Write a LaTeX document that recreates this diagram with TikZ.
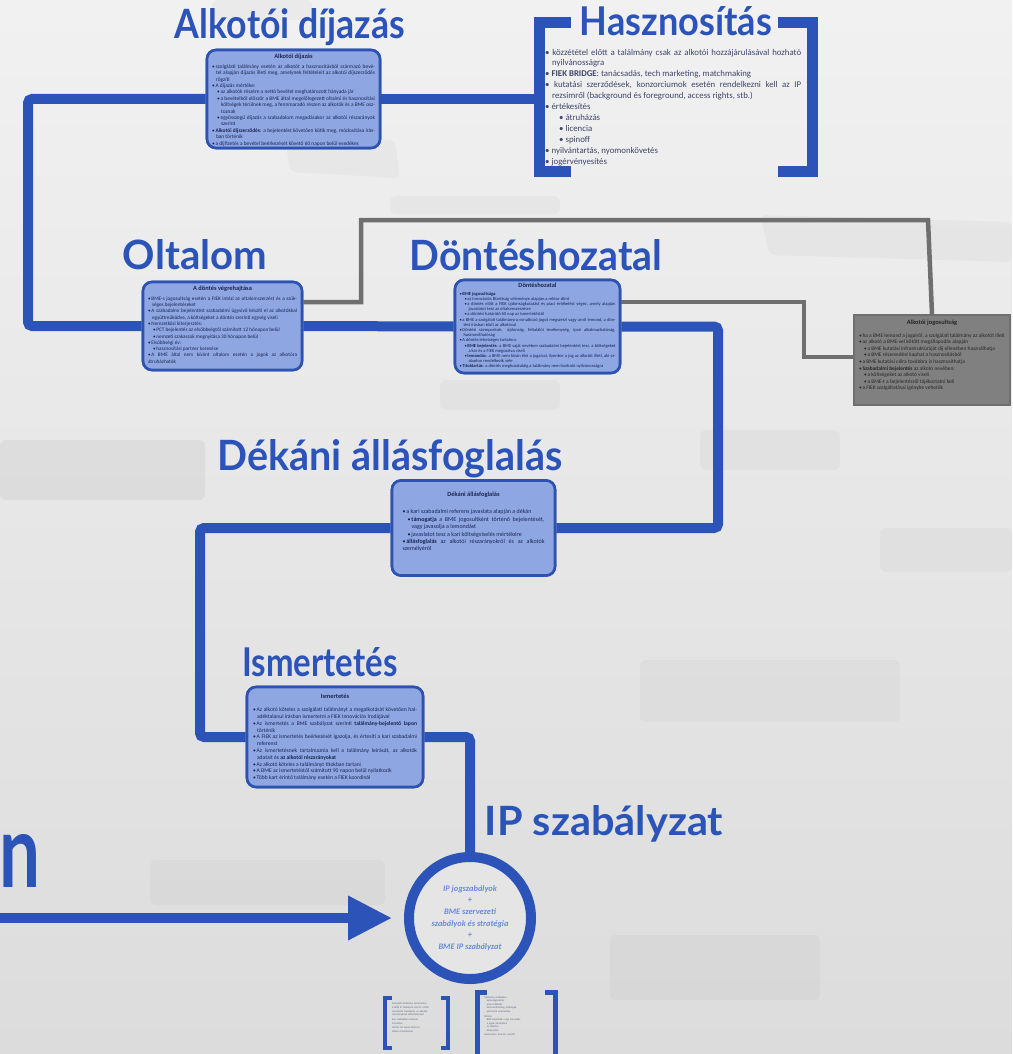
\documentclass[tikz,border=0pt]{standalone}
\usepackage{fontspec}
\setmainfont{Carlito}
\newfontfamily\ttlfont{Lato}
\usetikzlibrary{arrows.meta}
\definecolor{ipblue}{HTML}{2C54B8}
\definecolor{boxfill}{HTML}{8EA7E3}
\definecolor{boxline}{HTML}{2E52B0}
\definecolor{grayline}{HTML}{6F6F6F}
\definecolor{grayfill}{HTML}{808080}
\definecolor{txtdark}{HTML}{1B2450}
\definecolor{bgtop}{HTML}{F1F1F1}
\definecolor{bgbot}{HTML}{DCDCDC}
\definecolor{circtxt}{HTML}{6A8ADA}
\newcommand\mytitle[3]{\resizebox{#1pt}{#2pt}{\ttlfont\bfseries #3}}
\newcommand\bi[1]{\par\leftskip=0pt\hangindent=4pt\hangafter=1\noindent\textbullet\,#1}
\newcommand\si[1]{\par\leftskip=5pt\hangindent=4pt\hangafter=1\noindent\textbullet\,#1}
\newcommand\bx[1]{\par\leftskip=0pt\hangindent=7pt\hangafter=1\noindent\textbullet\ #1}
\newcommand\sx[1]{\par\leftskip=14pt\hangindent=7pt\hangafter=1\noindent\textbullet\ #1}
\begin{document}
\begin{tikzpicture}[x=1pt,y=-1pt,
  blueline/.style={draw=ipblue, line width=10pt, rounded corners=4pt},
  grayln/.style={draw=grayline, line width=4.5pt},
  infobox/.style={draw=boxline, fill=boxfill, line width=2.6pt, rounded corners=9pt, inner sep=0pt},
  graybox/.style={draw=grayline, fill=grayfill, line width=1.5pt, inner sep=0pt},
  boxtext/.style={inner sep=0pt, align=justify, text=txtdark, font=\fontsize{5.4}{6.4}\selectfont},
  boxhead/.style={inner sep=0pt, text=txtdark, font=\fontsize{6.4}{7}\selectfont\bfseries},
  ttl/.style={inner sep=0pt, text=ipblue, anchor=base},
  bracket/.style={draw=ipblue, line width=11pt},
  smallbr/.style={draw=ipblue, line width=4pt},
  bgshape/.style={fill=gray, opacity=0.06, rounded corners=6pt},
  tinytext/.style={inner sep=0pt, align=left, text=txtdark!70, font=\fontsize{2.6}{3.6}\selectfont}
]
\useasboundingbox (0,0) rectangle (1012,1054);
\clip (0,0) rectangle (1012,1054);
% background
\shade[top color=bgtop, bottom color=bgbot] (0,0) rectangle (1012,1054);
\fill[bgshape] (212,0) rectangle (312,20);
\fill[bgshape] (285,135) -- (395,140) -- (400,178) -- (290,172) -- cycle;
\fill[bgshape, opacity=0.1] (0,440) rectangle (205,500);
\fill[bgshape] (760,215) -- (1012,222) -- (1012,262) -- (770,255) -- cycle;
\fill[bgshape] (390,196) rectangle (560,214);
\fill[bgshape] (640,660) rectangle (900,722);
\fill[bgshape] (880,528) rectangle (1012,572);
\fill[bgshape] (150,860) rectangle (385,905);
\fill[bgshape] (610,935) rectangle (820,1000);
\fill[bgshape] (440,380) rectangle (560,410);
\fill[bgshape] (700,430) rectangle (840,470);

% boxes
\node[infobox, minimum width=173pt, minimum height=98pt] (n1) at (293.5,99) {};
\node[infobox, minimum width=159pt, minimum height=88pt] (olt) at (222.5,326) {};
\node[infobox, minimum width=165pt, minimum height=93pt] (dont) at (537.5,326.5) {};
\node[graybox, minimum width=156pt, minimum height=90pt] (jog) at (932,360) {};
\node[infobox, minimum width=163pt, minimum height=95pt] (dek) at (473.5,528) {};
\node[infobox, minimum width=176pt, minimum height=100pt] (ism) at (335,737) {};
\node[draw=ipblue, line width=10pt, circle, minimum size=122pt, fill=white!80!gray, inner sep=0pt] (ip) at (470,918) {};

% titles
\node[ttl] (t1) at (290,39) {\mytitle{230}{30}{Alkotói díjazás}};
\node[ttl] (t2) at (676,36) {\mytitle{192}{29}{Hasznosítás}};
\node[ttl] (t3) at (195,269) {\mytitle{144}{30}{Oltalom}};
\node[ttl] (t4) at (536,270) {\mytitle{253}{31}{Döntéshozatal}};
\node[ttl] (t5) at (390,470) {\mytitle{345}{31}{Dékáni állásfoglalás}};
\node[ttl] (t6) at (320,676) {\mytitle{155}{29}{Ismertetés}};
\node[ttl] (t7) at (604,835) {\mytitle{238}{30}{IP szabályzat}};
\node[inner sep=0pt, text=ipblue, anchor=south west] (nn) at (-1,888) {\resizebox{41pt}{53pt}{\ttlfont\bfseries n}};

% Hasznositas brackets
\coordinate (hl) at (539,99);
\draw[bracket] (571,23) -- (539,23) -- (539,171) -- (571,171);
\draw[bracket] (778,23) -- (812,23) -- (812,171) -- (778,171);
\node[inner sep=0pt, anchor=north west, text width=256pt, align=justify, text=txtdark!85, font=\fontsize{8.8}{10.9}\selectfont] (hlist) at (545,44) {%
\hyphenpenalty=10000\exhyphenpenalty=10000
\bx{közzététel előtt a találmány csak az alkotói hozzájárulásával hozható nyilvánosságra}
\bx{\textbf{FIEK BRIDGE}: tanácsadás, tech marketing, matchmaking}
\bx{kutatási szerződések, konzorciumok esetén rendelkezni kell az IP rezsimről (background és foreground, access rights, stb.)}
\bx{értékesítés}
\sx{átruházás}
\sx{licencia}
\sx{spinoff}
\bx{nyilvántartás, nyomonkövetés}
\bx{jogérvényesítés}};

% connectors
\draw[blueline] (n1.west) -- (28,99) -- (28,326) -- (olt.west);
\draw[blueline] (n1.east) -- (hl);
\draw[blueline] (olt.east) -- (dont.west);
\draw[blueline] (dont.east) -- (718,326.5) -- (718,528) -- (dek.east);
\draw[blueline] (dek.west) -- (200,528) -- (200,737) -- (ism.west);
\draw[blueline] (ism.east) -| (ip.north);
\coordinate (astart) at (-10,918);
\draw[ipblue, line width=10pt, shorten >=12pt, -{Triangle[length=44pt,width=42pt]}] (astart) -- (ip.west);
\draw[grayln] (olt.east |- 0,302) -- (361,302) -- (361,220) -- (928,220) -- (jog.north);
\draw[grayln] (dont.east |- 0,302) -- (804,302) -- (804,357) -- (jog.west |- 0,357);

% redraw boxes over lines
\node[infobox, minimum width=173pt, minimum height=98pt] at (n1) {};
\node[infobox, minimum width=159pt, minimum height=88pt] at (olt) {};
\node[infobox, minimum width=165pt, minimum height=93pt] at (dont) {};
\node[graybox, minimum width=156pt, minimum height=90pt] at (jog) {};
\node[infobox, minimum width=163pt, minimum height=95pt] at (dek) {};
\node[infobox, minimum width=176pt, minimum height=100pt] at (ism) {};

% box contents
\node[boxhead, anchor=north] (h1) at ([yshift=-5pt]n1.north) {Alkotói díjazás};
\node[boxtext, text width=163pt, anchor=north] (c1) at ([yshift=-13pt]n1.north) {%
\bi{szolgálati találmány esetén az alkotót a hasznosításból származó bevétel alapján díjazás illeti meg, amelynek feltételeit az alkotói díjszerződés rögzíti}
\bi{A díjazás mértéke:}
\si{az alkotók részére a nettó bevétel meghatározott hányada jár}
\si{a bevételből először a BME által megelőlegezett oltalmi és hasznosítási költségek térülnek meg, a fennmaradó részen az alkotók és a BME osztoznak}
\si{egyösszegű díjazás a szabadalom megadásakor az alkotói részarányok szerint}
\bi{\textbf{Alkotói díjszerződés}: a bejelentést követően kötik meg, módosítása írásban történik}
\bi{a díjfizetés a bevétel beérkezését követő 60 napon belül esedékes}};

\node[boxhead, anchor=north] (h2) at ([yshift=-5pt]olt.north) {A döntés végrehajtása};
\node[boxtext, text width=149pt, anchor=north, font=\fontsize{5.2}{6.3}\selectfont] (c2) at ([yshift=-13pt]olt.north) {%
\bi{BME-s jogosultság esetén a FIEK intézi az oltalomszerzést és a szükséges bejelentéseket}
\bi{A szabadalmi bejelentést szabadalmi ügyvivő készíti el az alkotókkal együttműködve, a költségeket a döntés szerinti egység viseli}
\bi{Nemzetközi kiterjesztés:}
\si{PCT bejelentés az elsőbbségtől számított 12 hónapon belül}
\si{nemzeti szakaszok megnyitása 30 hónapon belül}
\bi{Elsőbbségi év:}
\si{hasznosítási partner keresése}
\bi{A BME által nem kívánt oltalom esetén a jogok az alkotóra átruházhatók}};

\node[boxhead, anchor=north] (h3) at ([yshift=-4pt]dont.north) {Döntéshozatal};
\node[boxtext, text width=156pt, anchor=north, font=\fontsize{4.5}{5.2}\selectfont] (c3) at ([yshift=-11pt]dont.north) {%
\bi{\textbf{BME jogosultsága}:}
\si{az Innovációs Bizottság véleménye alapján a rektor dönt}
\si{a döntés előtt a FIEK újdonságkutatást és piaci értékelést végez, amely alapján javaslatot tesz az oltalomszerzésre}
\si{a döntési határidő 60 nap az ismertetéstől}
\bi{a BME a szolgálati találmányra vonatkozó jogot megszerzi vagy arról lemond, a döntést írásban közli az alkotóval}
\bi{Döntési szempontok: újdonság, feltalálói tevékenység, ipari alkalmazhatóság, hasznosíthatóság}
\bi{A döntés lehetséges tartalma:}
\si{\textbf{BME bejelentés}: a BME saját nevében szabadalmi bejelentést tesz, a költségeket a kar és a FIEK megosztva viseli}
\si{\textbf{lemondás}: a BME nem kíván élni a jogaival, ilyenkor a jog az alkotót illeti, aki szabadon rendelkezik vele}
\bi{\textbf{Titoktartás}: a döntés meghozataláig a találmány nem hozható nyilvánosságra}};

\node[boxhead, anchor=north, text=black!85] (h4) at ([yshift=-6pt]jog.north) {Alkotói jogosultság};
\node[boxtext, text width=146pt, anchor=north, text=black!85, font=\fontsize{5.4}{6.6}\selectfont] (c4) at ([yshift=-16pt]jog.north) {%
\bi{ha a BME lemond a jogairól, a szolgálati találmány az alkotót illeti}
\bi{az alkotó a BME-vel kötött megállapodás alapján}
\si{a BME kutatási infrastruktúráját díj ellenében használhatja}
\si{a BME részesedést kaphat a hasznosításból}
\bi{a BME kutatási célra továbbra is hasznosíthatja}
\bi{\textbf{Szabadalmi bejelentés} az alkotó nevében:}
\si{a költségeket az alkotó viseli}
\si{a BME-t a bejelentésről tájékoztatni kell}
\si{a FIEK szolgáltatásai igénybe vehetők}};

\node[boxhead, anchor=north] (h5) at ([yshift=-13pt]dek.north) {Dékáni állásfoglalás};
\node[boxtext, text width=142pt, anchor=north, font=\fontsize{6}{7.4}\selectfont] (c5) at ([yshift=-27pt]dek.north) {%
\bi{a kari szabadalmi referens javaslata alapján a dékán}
\si{\textbf{támogatja} a BME jogosultként történő bejelentését, vagy javasolja a lemondást}
\si{javaslatot tesz a kari költségviselés mértékére}
\bi{\textbf{állásfoglalás} az alkotói részarányokról és az alkotók személyéről}};

\node[boxhead, anchor=north] (h6) at ([yshift=-8pt]ism.north) {Ismertetés};
\node[boxtext, text width=164pt, anchor=north, font=\fontsize{5.6}{6.8}\selectfont] (c6) at ([yshift=-19pt]ism.north) {%
\bi{Az alkotó köteles a szolgálati találmányt a megalkotását követően haladéktalanul írásban ismertetni a FIEK Innovációs Irodájával}
\bi{Az ismertetés a BME szabályzat szerinti \textbf{találmány-bejelentő lapon} történik}
\bi{A FIEK az ismertetés beérkezését igazolja, és értesíti a kari szabadalmi referenst}
\bi{Az ismertetésnek tartalmaznia kell a találmány leírását, az alkotók adatait és \textbf{az alkotói részarányokat}}
\bi{Az alkotó köteles a találmányt titokban tartani}
\bi{A BME az ismertetéstől számított 90 napon belül nyilatkozik}
\bi{Több kart érintő találmány esetén a FIEK koordinál}};

% circle text
\node[inner sep=0pt, align=center, text=circtxt, font=\fontsize{8.4}{11.6}\selectfont\bfseries\itshape] (iptxt) at (ip) {IP jogszabályok\\+\\BME szervezeti\\szabályok és stratégia\\+\\BME IP szabályzat};

% small brackets at bottom
\draw[smallbr] (392,998) -- (385,998) -- (385,1048) -- (392,1048);
\draw[smallbr] (441,998) -- (448,998) -- (448,1048) -- (441,1048);
\node[tinytext, text width=44pt, anchor=north west] (b1) at (392,1002) {Szolgálati találmány ismertetése\\[1pt] a BME IP szabályzat szerint a FIEK\\ Innovációs Irodájánál, az alkotók\\ részarányának feltüntetésével\\[1pt] kari szabadalmi referens\\ értesítése\\[1pt] döntés 60 napon belül az\\ alkotó értesítésével};
\draw[smallbr, line width=5pt] (487,992) -- (477,992) -- (477,1060);
\draw[smallbr, line width=5pt] (545,992) -- (555,992) -- (555,1060);
\node[tinytext, text width=58pt, anchor=north west] (b2) at (484,996) {Találmány értékelése\\ \quad újdonságkutatás\\ \quad piaci értékelés\\ \quad hasznosíthatóság, költségek, \\ \quad partnerek azonosítása\\[1pt] Döntés:\\ \quad BME bejelentés vagy lemondás\\ \quad a jogok átruházása\\ \quad az alkotóra\\ \quad kiterjesztés\\ Hasznosítás, licencia, spinoff};
\end{tikzpicture}
\end{document}
